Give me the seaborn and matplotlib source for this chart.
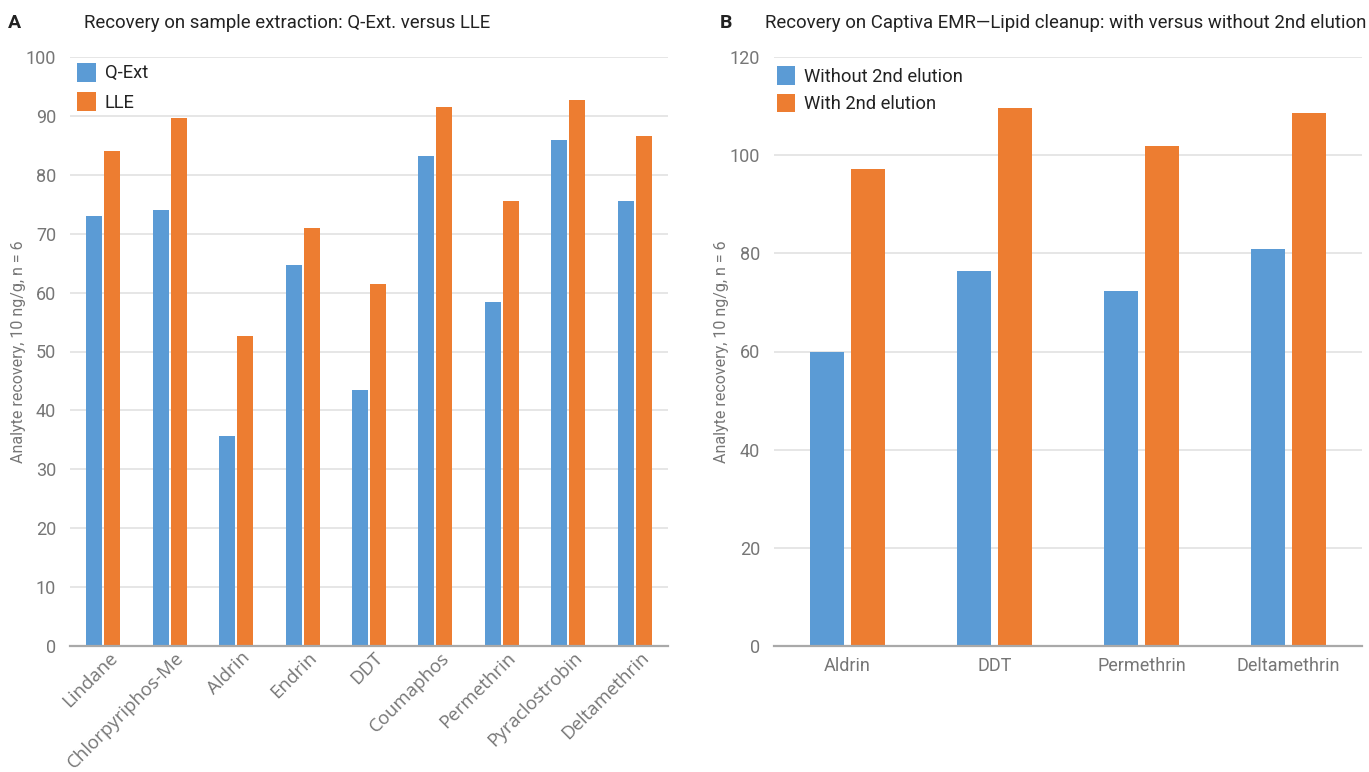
import numpy as np
import pandas as pd
import matplotlib
matplotlib.use("Agg")
import matplotlib.pyplot as plt
import matplotlib.transforms as mtransforms
import seaborn as sns

# Panel A: recovery by extraction method
analytes_a = ["Lindane", "Chlorpyriphos-Me", "Aldrin", "Endrin", "DDT",
              "Coumaphos", "Permethrin", "Pyraclostrobin", "Deltamethrin"]
qext = [73.0, 74.0, 35.6, 64.7, 43.4, 83.2, 58.4, 85.9, 75.6]
lle = [84.1, 89.6, 52.7, 71.0, 61.5, 91.5, 75.6, 92.7, 86.6]
series_a = ["Q-Ext", "LLE"]

# Panel B: recovery on Captiva EMR-Lipid cleanup
analytes_b = ["Aldrin", "DDT", "Permethrin", "Deltamethrin"]
without_2nd = [59.9, 76.5, 72.3, 80.9]
with_2nd = [97.1, 109.6, 101.8, 108.5]
series_b = ["Without 2nd elution", "With 2nd elution"]

yticks_a = [0, 10, 20, 30, 40, 50, 60, 70, 80, 90, 100]
yticks_b = [0, 20, 40, 60, 80, 100, 120]
ylabel = "Analyte recovery, 10 ng/g, n = 6"

df_a = pd.DataFrame({
    "analyte": analytes_a * 2,
    "recovery": qext + lle,
    "method": [series_a[0]] * len(analytes_a) + [series_a[1]] * len(analytes_a),
})
df_b = pd.DataFrame({
    "analyte": analytes_b * 2,
    "recovery": without_2nd + with_2nd,
    "method": [series_b[0]] * len(analytes_b) + [series_b[1]] * len(analytes_b),
})

sns.set_theme(style="white")
plt.rcParams["font.family"] = ["Roboto", "DejaVu Sans"]

BLUE = "#5B9BD5"
ORANGE = "#ED7D31"
GRID = "#e2e2e2"
TICK = "#767676"
TEXT = "#222222"

fig = plt.figure(figsize=(13.69, 7.72), dpi=100)
W, H = 1369, 772


def px_axes(left, right, top, bottom):
    return fig.add_axes([left / W, 1 - bottom / H, (right - left) / W, (bottom - top) / H])


def style_axes(ax, ticks):
    ax.set_ylim(ticks[0], ticks[-1])
    ax.set_yticks(ticks)
    ax.yaxis.grid(True, color=GRID, linewidth=1.2)
    ax.set_axisbelow(True)
    for side in ["left", "right", "top"]:
        ax.spines[side].set_visible(False)
    ax.spines["bottom"].set_color("#a9a9a9")
    ax.spines["bottom"].set_linewidth(1.6)
    ax.spines["bottom"].set_zorder(3)
    ax.tick_params(axis="both", length=0, colors=TICK, labelsize=13)
    ax.tick_params(axis="y", pad=10)
    ax.set_xlabel("")
    ax.set_ylabel(ylabel, fontsize=11.5, color=TICK)


def style_legend(ax, anchor, spacing):
    leg = ax.legend(loc="upper left", bbox_to_anchor=anchor, frameon=False,
                    fontsize=13.2, handlelength=1.0, handleheight=1.2,
                    handletextpad=0.5, labelspacing=spacing, borderaxespad=0.3)
    for t in leg.get_texts():
        t.set_color(TEXT)


# ---- Panel A ----
ax_a = px_axes(70, 668, 57, 646)
sns.barplot(data=df_a, x="analyte", y="recovery", hue="method",
            hue_order=series_a, order=analytes_a,
            palette=[BLUE, ORANGE], width=0.54, gap=0.11, linewidth=0,
            saturation=1, errorbar=None, ax=ax_a)
style_axes(ax_a, yticks_a)
ax_a.set_xlim(-0.5, len(analytes_a) - 0.5)
ax_a.tick_params(axis="x", pad=2)
# nudge rotated labels a little to the right of their tick
shift = mtransforms.ScaledTranslation(5 / 100, 0, fig.dpi_scale_trans)
for lab in ax_a.get_xticklabels():
    lab.set_rotation(45)
    lab.set_ha("right")
    lab.set_rotation_mode("anchor")
    lab.set_fontfamily(["Open Sans", "DejaVu Sans"])
    lab.set_fontsize(13.4)
    lab.set_transform(lab.get_transform() + shift)
ax_a.yaxis.set_label_coords(-0.074, 0.5)
style_legend(ax_a, (-0.009, 1.012), 0.55)

# ---- Panel B ----
ax_b = px_axes(774, 1362, 57, 646)
sns.barplot(data=df_b, x="analyte", y="recovery", hue="method",
            hue_order=series_b, order=analytes_b,
            palette=[BLUE, ORANGE], width=0.57, gap=0.19, linewidth=0,
            saturation=1, errorbar=None, ax=ax_b)
style_axes(ax_b, yticks_b)
ax_b.set_xlim(-0.5, len(analytes_b) - 0.5)
ax_b.tick_params(axis="x", pad=8)
ax_b.yaxis.set_label_coords(-0.077, 0.5)
style_legend(ax_b, (-0.017, 1.006), 0.42)

# Panel letters and titles
fig.text(8 / W, 1 - 23 / H, "A", fontsize=14, fontweight="bold", color=TEXT, va="center")
fig.text(84 / W, 1 - 23 / H, "Recovery on sample extraction: Q-Ext. versus LLE",
         fontsize=13.4, color=TEXT, va="center")
fig.text(720 / W, 1 - 23 / H, "B", fontsize=14, fontweight="bold", color=TEXT, va="center")
fig.text(765 / W, 1 - 23 / H,
         "Recovery on Captiva EMR\u2014Lipid cleanup: with versus without 2nd elution",
         fontsize=13.4, color=TEXT, va="center")

fig.savefig("out.png", dpi=100, facecolor="white")
